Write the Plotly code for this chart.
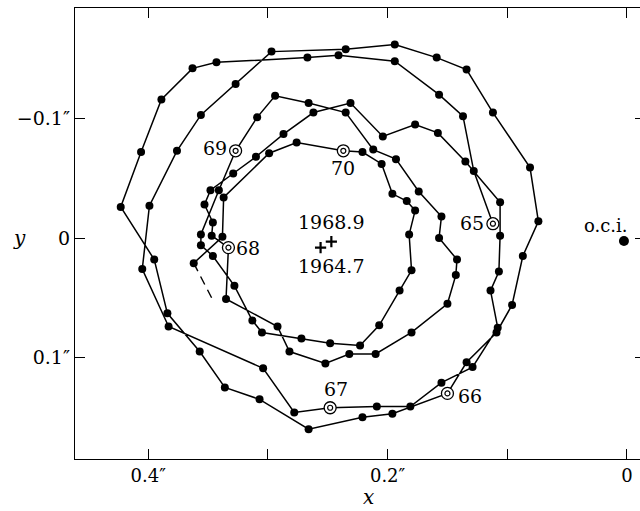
import plotly.graph_objects as go

# ---- data (arcseconds), 0.05-yr steps, each year starts at its labelled point
x_1965 = [0.112, 0.128, 0.137, 0.157, 0.194, 0.241, 0.267, 0.343, 0.363, 0.389, 0.406, 0.423,
          0.395, 0.384, 0.357, 0.336, 0.307, 0.266, 0.221, 0.196]
y_1965 = [-0.012, -0.056, -0.102, -0.120, -0.148, -0.153, -0.151, -0.147, -0.142, -0.116, -0.072, -0.026,
          0.018, 0.063, 0.095, 0.125, 0.135, 0.160, 0.150, 0.147]

x_1966 = [0.150, 0.134, 0.109, 0.096, 0.087, 0.074, 0.081, 0.112, 0.134, 0.159, 0.194, 0.235,
          0.297, 0.327, 0.356, 0.376, 0.399, 0.405, 0.383, 0.304, 0.278]
y_1966 = [0.130, 0.104, 0.079, 0.056, 0.015, -0.014, -0.059, -0.105, -0.141, -0.151, -0.162, -0.158,
          -0.156, -0.129, -0.103, -0.073, -0.027, 0.026, 0.074, 0.109, 0.146]

x_1967 = [0.248, 0.209, 0.181, 0.155, 0.129, 0.108, 0.114, 0.107, 0.106, 0.106, 0.135,
          0.158, 0.177, 0.204, 0.231, 0.262, 0.287, 0.310, 0.329, 0.348, 0.353, 0.346, 0.347]
y_1967 = [0.142, 0.141, 0.141, 0.121, 0.108, 0.075, 0.044, 0.028, -0.002, -0.030, -0.064,
          -0.088, -0.095, -0.085, -0.113, -0.105, -0.087, -0.068, -0.054, -0.040, -0.028, -0.013, -0.002]

x_1968 = [0.333, 0.335, 0.292, 0.282, 0.252, 0.232, 0.210, 0.180, 0.150, 0.143, 0.142, 0.157,
          0.155, 0.174, 0.193, 0.212, 0.235, 0.266, 0.294, 0.309]
y_1968 = [0.008, 0.051, 0.074, 0.095, 0.105, 0.097, 0.097, 0.079, 0.055, 0.031, 0.018, 0.000,
          -0.018, -0.039, -0.066, -0.074, -0.105, -0.113, -0.119, -0.101]

x_1969 = [0.327, 0.341, 0.356, 0.356, 0.346, 0.328, 0.313, 0.305, 0.272, 0.248, 0.223,
          0.207, 0.190, 0.180, 0.182, 0.177, 0.184, 0.196, 0.205, 0.221]
y_1969 = [-0.073, -0.040, -0.003, 0.006, 0.015, 0.040, 0.069, 0.079, 0.084, 0.088, 0.090,
          0.073, 0.044, 0.027, -0.003, -0.023, -0.031, -0.037, -0.062, -0.072]

x_1970 = [0.237, 0.276, 0.299, 0.337, 0.338, 0.362]
y_1970 = [-0.073, -0.080, -0.071, -0.034, -0.001, 0.021]

# provisional continuation after the last observation (dashed)
x_proj = [0.345]
y_proj = [0.054]

year_labels = ["65", "66", "67", "68", "69", "70"]
# label offsets (pixels) from each year's first point
label_dx = [-21, 23, 6, 20, -21, 0]
label_dy = [1, -3, 19, 0, 3, -17]

# mean pole positions
mean_x = [0.247, 0.256]
mean_y = [0.003, 0.008]
mean_labels = ["1968.9", "1964.7"]
mean_dx = [0, 10]
mean_dy = [20, -18]

# origin (o.c.i.)
oci_x = [0.0025]
oci_y = [0.0025]

xs_years = [x_1965, x_1966, x_1967, x_1968, x_1969, x_1970]
ys_years = [y_1965, y_1966, y_1967, y_1968, y_1969, y_1970]

# ---- build path
px, py = [], []
for xs, ys in zip(xs_years, ys_years):
    px += xs
    py += ys
dx = [px[-1], x_proj[0]]
dy = [py[-1], y_proj[0]]

ring_x = [xs[0] for xs in xs_years]
ring_y = [ys[0] for ys in ys_years]
dot_x = [a for xs in xs_years for a in xs[1:]]
dot_y = [b for ys in ys_years for b in ys[1:]]

FONT = "DejaVu Serif"
fig = go.Figure()
fig.add_trace(go.Scatter(x=dx, y=dy, mode="lines",
                         line=dict(color="black", width=1.4, dash="9px,6px"),
                         hoverinfo="skip", showlegend=False))
fig.add_trace(go.Scatter(x=px, y=py, mode="lines",
                         line=dict(color="black", width=1.5),
                         hoverinfo="skip", showlegend=False))
fig.add_trace(go.Scatter(x=dot_x, y=dot_y, mode="markers",
                         marker=dict(color="black", size=8, line=dict(width=0)),
                         showlegend=False))
# year-start markers: double ring (outer white-filled circle + inner small ring)
fig.add_trace(go.Scatter(x=ring_x, y=ring_y, mode="markers",
                         marker=dict(symbol="circle", color="white", size=12,
                                     line=dict(color="black", width=1.3)),
                         showlegend=False))
fig.add_trace(go.Scatter(x=ring_x, y=ring_y, mode="markers",
                         marker=dict(symbol="circle-open", color="black", size=5,
                                     line=dict(color="black", width=1.2)),
                         showlegend=False))
fig.add_trace(go.Scatter(x=mean_x, y=mean_y, mode="markers",
                         marker=dict(symbol="cross-thin-open", size=8, color="black",
                                     line=dict(color="black", width=2.2)),
                         showlegend=False))
fig.add_trace(go.Scatter(x=oci_x, y=oci_y, mode="markers",
                         marker=dict(color="black", size=10), showlegend=False))
# invisible trace to host the right-hand tick axis
fig.add_trace(go.Scatter(x=oci_x, y=oci_y, yaxis="y2", mode="markers",
                         marker=dict(opacity=0), hoverinfo="skip", showlegend=False))

ann = []
for lab, xs, ys, ox, oy in zip(year_labels, xs_years, ys_years, label_dx, label_dy):
    ann.append(dict(x=xs[0], y=ys[0], text=lab, showarrow=False, xshift=ox, yshift=oy,
                    font=dict(family=FONT, size=19, color="black")))
for lab, mx, my, ox, oy in zip(mean_labels, mean_x, mean_y, mean_dx, mean_dy):
    ann.append(dict(x=mx, y=my, text=lab, showarrow=False, xshift=ox, yshift=oy,
                    font=dict(family=FONT, size=19, color="black")))
ann.append(dict(x=oci_x[0], y=oci_y[0], text="o.c.i.", showarrow=False, xshift=-18, yshift=16,
                font=dict(family=FONT, size=18, color="black")))
ann.append(dict(x=0, y=0, xref="paper", yref="y", text="<i>y</i>", showarrow=False,
                xanchor="center", yanchor="middle",
                xshift=-56, font=dict(family=FONT, size=20, color="black")))
ann.append(dict(x=0.216, y=0, xref="x", yref="paper", text="<i>x</i>", showarrow=False,
                xanchor="center", yanchor="middle",
                yshift=-38, font=dict(family=FONT, size=20, color="black")))

fig.update_layout(
    width=640, height=511,
    margin=dict(l=75, r=0, t=8, b=52),
    paper_bgcolor="white", plot_bgcolor="white",
    font=dict(family=FONT, size=18, color="black"),
    annotations=ann,
    xaxis=dict(range=[0.4612, -0.0109], tickvals=[0, 0.1, 0.2, 0.3, 0.4],
               ticktext=["0", "", "0.2″", "", "0.4″"],
               ticks="inside", ticklen=10, tickwidth=1.3, tickcolor="black",
               showline=True, linewidth=1.4, linecolor="black", mirror="ticks",
               showgrid=False, zeroline=False, tickfont=dict(family=FONT, size=18)),
    yaxis=dict(range=[0.1849, -0.1925], tickvals=[-0.1, 0, 0.1],
               ticktext=["−0.1″", "0", "0.1″"],
               ticks="inside", ticklen=10, tickwidth=1.3, tickcolor="black",
               showline=True, linewidth=1.4, linecolor="black", mirror=False,
               showgrid=False, zeroline=False, tickfont=dict(family=FONT, size=19)),
    yaxis2=dict(range=[0.1849, -0.1925], overlaying="y", side="right",
                tickvals=[-0.1, 0, 0.1], ticks="inside", ticklen=5, tickwidth=1.3,
                tickcolor="black", showticklabels=False, showline=False,
                showgrid=False, zeroline=False),
)

fig.write_html("out.html", config={"displayModeBar": False},
               post_script="document.body.style.margin='0px';")
